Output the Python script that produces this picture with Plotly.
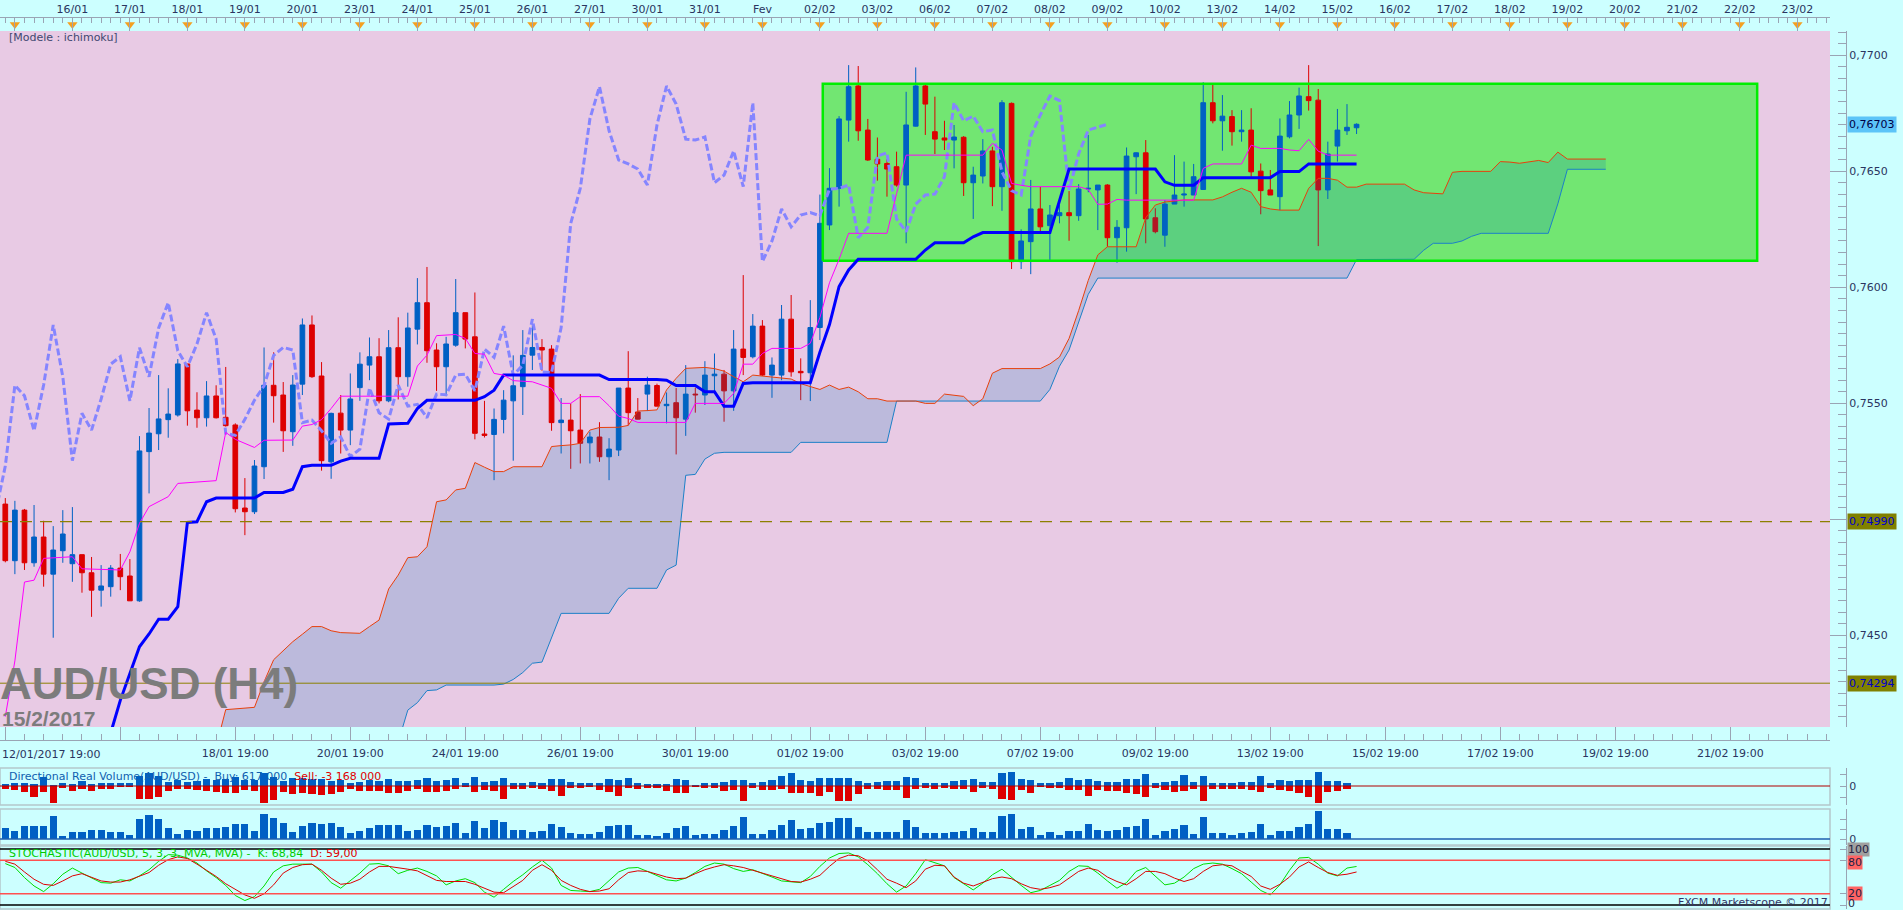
import plotly.graph_objects as go

# ---------------- DATA ----------------
# 4-hour bars, index 0 = 12/01/2017 19:00
opens = [0.75066,0.74822,0.75040,0.74813,0.74924,0.74764,0.74865,0.74809,0.74848,0.74770,
 0.74695,0.74710,0.74790,0.74756,0.74649,0.75292,0.75369,0.75430,0.75450,0.75670,
 0.75471,0.75438,0.75532,0.75440,0.75407,0.75049,0.75033,0.75227,0.75578,0.75536,
 0.75378,0.75583,0.75838,0.75618,0.75248,0.75458,0.75385,0.75568,0.75665,0.75701,
 0.75511,0.75740,0.75615,0.75820,0.75934,0.75730,0.75658,0.75751,0.75891,0.75787,
 0.75368,0.75366,0.75431,0.75511,0.75572,0.75708,0.75741,0.75734,0.75417,0.75428,
 0.75385,0.75330,0.75355,0.75270,0.75299,0.75566,0.75463,0.75540,0.75577,0.75490,
 0.75503,0.75432,0.75540,0.75536,0.75619,0.75626,0.75554,0.75734,0.75701,0.75833,
 0.75622,0.75622,0.75863,0.75638,0.75632,0.75827,0.76269,0.76427,0.76721,0.76868,
 0.76678,0.76552,0.76534,0.76520,0.76441,0.76695,0.76868,0.76671,0.76644,0.76635,
 0.76647,0.76451,0.76480,0.76588,0.76434,0.76793,0.76111,0.76197,0.76338,0.76266,
 0.76309,0.76322,0.76309,0.76424,0.76420,0.76441,0.76214,0.76257,0.76563,0.76580,
 0.76300,0.76225,0.76359,0.76398,0.76398,0.76422,0.76796,0.76718,0.76736,0.76671,
 0.76678,0.76501,0.76420,0.76391,0.76649,0.76743,0.76822,0.76807,0.76420,0.76609,
 0.76675,0.76688]
highs = [0.75092,0.75080,0.75045,0.75062,0.74994,0.74971,0.75040,0.75053,0.74848,0.74838,
 0.74803,0.74803,0.74851,0.74829,0.75359,0.75480,0.75622,0.75565,0.75691,0.75670,
 0.75548,0.75596,0.75578,0.75657,0.75414,0.75178,0.75256,0.75741,0.75720,0.75592,
 0.75622,0.75866,0.75879,0.75678,0.75460,0.75536,0.75629,0.75720,0.75784,0.75781,
 0.75816,0.75871,0.75891,0.76040,0.76088,0.75759,0.75787,0.76036,0.75891,0.75978,
 0.75511,0.75478,0.75557,0.75707,0.75816,0.75859,0.75777,0.75751,0.75523,0.75500,
 0.75540,0.75378,0.75419,0.75350,0.75566,0.75725,0.75523,0.75615,0.75585,0.75547,
 0.75566,0.75665,0.75568,0.75682,0.75715,0.75644,0.75816,0.76053,0.75885,0.75859,
 0.75698,0.75924,0.75967,0.75694,0.75945,0.76400,0.76514,0.76738,0.76958,0.76954,
 0.76726,0.76646,0.76552,0.76585,0.76843,0.76948,0.76876,0.76822,0.76718,0.76700,
 0.76652,0.76520,0.76639,0.76606,0.76807,0.76797,0.76250,0.76463,0.76434,0.76355,
 0.76355,0.76415,0.76445,0.76657,0.76441,0.76445,0.76290,0.76603,0.76582,0.76635,
 0.76341,0.76376,0.76570,0.76542,0.76532,0.76884,0.76879,0.76829,0.76764,0.76764,
 0.76772,0.76534,0.76506,0.76728,0.76803,0.76861,0.76958,0.76855,0.76628,0.76769,
 0.76790,0.76707]
lows = [0.74815,0.74764,0.74782,0.74796,0.74710,0.74490,0.74813,0.74731,0.74684,0.74580,
 0.74624,0.74667,0.74695,0.74649,0.74645,0.75112,0.75299,0.75352,0.75443,0.75404,
 0.75395,0.75400,0.75435,0.75400,0.75030,0.74932,0.75023,0.75174,0.75417,0.75291,
 0.75317,0.75536,0.75610,0.75210,0.75175,0.75284,0.75320,0.75511,0.75600,0.75500,
 0.75505,0.75517,0.75572,0.75754,0.75675,0.75554,0.75531,0.75744,0.75737,0.75345,
 0.75353,0.75169,0.75371,0.75253,0.75450,0.75644,0.75641,0.75382,0.75284,0.75218,
 0.75241,0.75241,0.75248,0.75169,0.75273,0.75405,0.75431,0.75467,0.75488,0.75414,
 0.75280,0.75360,0.75460,0.75493,0.75550,0.75421,0.75468,0.75622,0.75694,0.75618,
 0.75524,0.75600,0.75615,0.75514,0.75510,0.75773,0.76247,0.76348,0.76628,0.76632,
 0.76545,0.76460,0.76391,0.76434,0.76190,0.76693,0.76657,0.76575,0.76592,0.76513,
 0.76394,0.76295,0.76448,0.76350,0.76330,0.76079,0.76079,0.76057,0.76236,0.76115,
 0.76276,0.76201,0.76287,0.76410,0.76247,0.76175,0.76106,0.76154,0.76402,0.76190,
 0.76233,0.76175,0.76359,0.76348,0.76398,0.76420,0.76707,0.76589,0.76611,0.76628,
 0.76477,0.76315,0.76398,0.76333,0.76642,0.76683,0.76762,0.76178,0.76381,0.76542,
 0.76657,0.76661]
closes = [0.74822,0.75040,0.74813,0.74924,0.74764,0.74868,0.74937,0.74848,0.74770,0.74695,
 0.74713,0.74790,0.74753,0.74649,0.75295,0.75372,0.75433,0.75454,0.75670,0.75468,
 0.75438,0.75532,0.75438,0.75404,0.75046,0.75033,0.75230,0.75578,0.75533,0.75382,
 0.75579,0.75838,0.75615,0.75253,0.75457,0.75385,0.75519,0.75669,0.75701,0.75511,
 0.75740,0.75615,0.75825,0.75934,0.75727,0.75658,0.75756,0.75891,0.75777,0.75371,
 0.75362,0.75431,0.75514,0.75576,0.75707,0.75741,0.75730,0.75417,0.75428,0.75382,
 0.75328,0.75355,0.75270,0.75303,0.75566,0.75460,0.75432,0.75579,0.75488,0.75496,
 0.75438,0.75540,0.75537,0.75622,0.75626,0.75554,0.75734,0.75698,0.75833,0.75622,
 0.75665,0.75863,0.75636,0.75632,0.75827,0.76276,0.76427,0.76726,0.76865,0.76675,
 0.76549,0.76532,0.76510,0.76441,0.76700,0.76868,0.76790,0.76639,0.76635,0.76648,
 0.76451,0.76484,0.76588,0.76434,0.76796,0.76111,0.76200,0.76338,0.76261,0.76312,
 0.76322,0.76309,0.76424,0.76427,0.76441,0.76214,0.76259,0.76566,0.76580,0.76295,
 0.76240,0.76359,0.76398,0.76402,0.76477,0.76796,0.76718,0.76738,0.76671,0.76678,
 0.76498,0.76417,0.76398,0.76652,0.76743,0.76825,0.76805,0.76420,0.76575,0.76678,
 0.76690,0.76703]

# Ichimoku lines (bar index, price) at their corners
tenkan_x = [0,1,2,3,4,7,8,12,13,14,15,17,18,22,23,24,26,27,30,31,32,33,34,35,42,43,44,45,47,48,49,50,51,52,53,55,57,58,59,60,62,63,64,65,66,71,72,75,76,77,78,79,80,83,84,85,86,87,88,92,93,94,102,103,104,105,106,107,112,113,114,115,116,117,124,125,126,129,130,131,133,134,135,136,137,138,141]
tenkan_y = [0.7415,0.7439,0.7473,0.74738,0.74832,0.74839,0.74787,0.74782,0.7486,0.74983,0.75055,0.75098,0.75155,0.75167,0.75375,0.75345,0.7531,0.75341,0.75342,0.75402,0.75409,0.7543,0.75478,0.75531,0.75531,0.75661,0.75708,0.75792,0.75797,0.7578,0.75715,0.75712,0.75629,0.75622,0.75598,0.75593,0.75565,0.755,0.755,0.75529,0.75529,0.7549,0.75445,0.75435,0.75418,0.75418,0.755,0.755,0.75543,0.75669,0.75669,0.75715,0.75737,0.75737,0.75759,0.7587,0.7602,0.76121,0.76233,0.76233,0.76404,0.7657,0.7657,0.76621,0.76592,0.76448,0.7644,0.76434,0.76434,0.76422,0.76358,0.76359,0.76379,0.76376,0.76376,0.76513,0.76532,0.76532,0.76613,0.76599,0.76599,0.76592,0.76589,0.76638,0.76587,0.7657,0.7657]

kijun_x = [10,11,12,13,14,15,16,17,18,19,20,21,22,26,27,29,30,31,32,34,35,36,39,40,42,43,44,49,50,51,52,62,63,68,69,70,72,73,74,75,76,77,78,84,85,86,87,88,89,95,96,97,100,101,102,109,110,111,120,121,122,124,125,132,133,135,136,141]
kijun_y = [0.7400,0.7408,0.7422,0.7434,0.74451,0.74506,0.7457,0.7457,0.74624,0.74987,0.7499,0.75076,0.75092,0.75092,0.75116,0.75116,0.7513,0.75227,0.75233,0.75233,0.75251,0.75263,0.75263,0.75411,0.75414,0.75478,0.75513,0.75513,0.75529,0.75557,0.75622,0.75622,0.75603,0.75603,0.756,0.75577,0.75577,0.7555,0.7555,0.75488,0.75488,0.75586,0.75589,0.75589,0.7572,0.7584,0.76003,0.76075,0.76121,0.76121,0.76161,0.76192,0.76192,0.76218,0.76236,0.76236,0.76376,0.7651,0.7651,0.76455,0.7644,0.7644,0.76473,0.76473,0.76499,0.76499,0.76532,0.76532]

span_a_x = [22,23,26,27,28,29,30,31,32,33,34,35,37,38,39,40,41,42,43,44,45,46,47,48,49,50,51,52,53,56,57,58,59,60,61,62,64,65,66,67,68,69,70,71,73,74,75,76,77,78,81,82,83,85,86,87,88,89,90,91,92,95,96,97,98,100,101,102,103,104,108,109,110,111,112,113,114,115,118,119,120,121,122,123,126,127,128,129,130,131,132,133,135,136,137,138,139,140,141,142,146,147,148,150,151,152,155,156,157,158,160,161,162,163,167]
span_a_y = [0.7402,0.7418,0.7419,0.7430,0.74395,0.74435,0.74473,0.74505,0.74538,0.74538,0.7452,0.74512,0.74509,0.74538,0.74566,0.747,0.7476,0.74835,0.74839,0.74882,0.75076,0.75084,0.75127,0.75134,0.75245,0.75225,0.75206,0.75206,0.75227,0.75227,0.75314,0.75318,0.75321,0.75328,0.75385,0.75396,0.75397,0.75405,0.75467,0.75469,0.75472,0.75558,0.75608,0.75651,0.75655,0.7565,0.75639,0.75615,0.75593,0.75622,0.7561,0.75605,0.75585,0.7556,0.75579,0.7556,0.7557,0.7555,0.7552,0.7552,0.7551,0.7551,0.7550,0.7550,0.7554,0.7553,0.7549,0.7552,0.7563,0.7565,0.7565,0.7567,0.7570,0.7578,0.7590,0.7603,0.7614,0.76175,0.76175,0.763,0.76355,0.76368,0.76372,0.76377,0.76377,0.7639,0.7641,0.76427,0.7641,0.76348,0.76338,0.76333,0.76333,0.76427,0.7647,0.7647,0.76462,0.76432,0.76432,0.76445,0.76445,0.7642,0.76408,0.76403,0.76496,0.765,0.765,0.76542,0.7654,0.76535,0.76547,0.76538,0.76583,0.76553,0.76553]

span_b_x = [22,29,30,34,35,37,38,39,40,41,42,43,44,45,46,51,52,53,54,55,56,57,58,63,64,65,68,69,70,71,72,73,74,75,82,83,92,93,108,109,110,111,112,113,114,140,141,147,148,149,151,152,153,154,161,162,163,167]
span_b_y = [0.7360,0.7360,0.7368,0.7368,0.7376,0.7376,0.7388,0.7388,0.7398,0.7404,0.74178,0.7421,0.74262,0.74265,0.74286,0.74286,0.7429,0.7431,0.7434,0.7438,0.74385,0.7449,0.74595,0.74595,0.7466,0.74703,0.74703,0.74782,0.74803,0.7519,0.75194,0.7526,0.75285,0.75289,0.75289,0.75332,0.75332,0.7551,0.7551,0.7556,0.7566,0.7573,0.7585,0.7597,0.7604,0.7604,0.7612,0.76121,0.7616,0.7619,0.7619,0.762,0.7622,0.76233,0.76233,0.7636,0.76509,0.76509]

# Directional real volume (millions) and real volume
buy_vol = [1.7,2.7,2.7,2.0,8.7,1.0,2.7,2.0,5.0,2.0, 3.3,3.3,2.7,2.7,10.0,12.7,10.0,4.3,6.0,4.3,
 5.0,6.7,6.0,6.7,9.3,6.0,6.0,12.7,9.3,5.0, 8.3,8.3,6.7,6.7,5.0,6.0,2.7,4.3,6.0,5.0,
 6.7,5.0,5.0,6.0,8.3,5.0,6.0,8.3,2.7,9.3, 4.3,5.0,7.7,3.3,3.3,4.3,3.3,6.7,6.7,4.3,
 3.3,2.7,2.7,6.7,6.0,8.3,2.7,1.7,1.7,1.7, 6.7,6.0,1.0,3.3,3.3,4.0,6.0,6.0,3.3,4.3,
 6.0,10.0,12.7,6.0,5.0,7.7,7.7,7.7,7.7,5.0, 2.7,4.3,5.0,5.0,8.7,7.7,3.3,3.3,3.3,5.0,
 6.0,7.0,4.3,4.3,13.3,14.3,7.0,6.0,3.3,3.3, 4.3,7.7,6.0,6.7,5.0,4.3,4.3,6.7,6.7,12.0,
 3.3,4.3,5.0,11.0,4.0,10.3,3.3,3.3,3.3,4.3, 4.3,10.0,2.7,6.0,5.3,6.0,6.0,13.7,5.0,5.0,3.3]
sell_vol = [3.3,4.0,5.7,10.7,5.7,16.7,2.3,4.7,2.7,5.0, 3.3,3.3,0.7,1.3,13.3,13.3,11.3,5.0,3.3,3.0,
 4.3,5.0,5.7,6.7,6.7,4.0,5.0,16.7,14.0,5.7, 8.0,6.7,8.0,8.7,8.0,5.7,3.0,5.0,5.0,4.7,
 6.7,6.7,5.0,3.0,5.7,5.7,5.0,3.0,0.7,5.7, 4.0,5.0,13.3,3.0,3.0,2.3,3.3,5.0,9.7,2.3,
 2.3,1.3,4.0,5.7,10.0,1.7,3.0,2.3,2.3,4.7, 6.7,7.3,0.7,2.3,2.3,5.0,4.0,14.7,2.3,4.0,
 4.0,3.3,6.7,6.7,6.7,10.0,5.7,15.0,15.0,8.0, 3.3,3.3,4.0,4.0,11.7,3.0,2.3,3.3,2.3,3.3,
 3.0,5.7,2.3,3.0,13.0,14.0,4.0,6.7,1.3,2.3, 2.3,4.0,4.0,10.0,4.0,4.7,4.7,7.3,8.0,10.7,
 2.3,4.0,5.7,4.7,3.0,14.7,3.0,3.0,3.3,3.0, 4.0,5.7,2.3,4.0,4.7,7.3,10.7,16.7,5.7,5.0,3.3]
real_vol = [10.7,8.0,13.0,13.0,13.0,23.0,3.0,6.7,6.7,9.0, 9.0,6.7,6.7,4.0,20.0,24.0,20.0,10.7,5.0,9.0,
 8.3,10.7,10.7,12.3,14.7,14.7,8.0,24.7,21.3,16.3, 6.7,13.0,16.3,14.7,16.3,12.3,5.7,8.0,10.7,14.0,
 14.0,14.0,8.3,9.0,14.0,11.7,13.0,15.7,5.7,18.3, 10.7,19.0,17.3,9.0,9.0,6.7,8.0,14.7,11.7,5.7,
 4.7,4.7,6.7,13.0,14.0,13.7,4.0,4.0,3.0,5.7, 11.3,13.0,4.0,4.7,4.7,9.0,13.0,22.3,5.0,5.0,
 9.0,14.0,19.0,9.7,10.7,15.7,17.3,20.7,20.7,12.3, 7.3,7.3,7.3,7.3,19.0,12.3,5.7,5.7,5.7,7.3,
 8.0,10.7,6.7,6.7,23.3,25.0,10.0,11.7,4.0,7.3, 4.0,8.3,8.3,15.0,9.0,8.3,9.0,12.3,13.0,20.0,
 4.0,8.3,9.7,14.0,5.0,22.3,6.3,6.3,4.0,6.3, 7.3,15.0,4.0,8.3,8.3,11.7,15.0,28.0,9.7,9.7,6.3]

# Stochastic (5,3,3)
stoch_k = [74,67,49,34,24,38,55,66,57,48, 40,39,45,43,52,63,78,90,89,84, 75,61,49,35,17,8,15,34,59,70,
 73,73,73,59,40,30,43,57,73,74, 70,56,62,66,60,52,36,43,47,40, 23,14,28,42,54,68,80,66,35,26,
 25,24,28,43,59,66,67,60,52,45, 43,48,58,69,75,73,65,60,63,57, 50,43,41,40,51,69,84,92,93,86,
 72,56,38,23,34,56,81,76,70,49, 38,27,39,54,64,49,35,22,26,35, 44,60,70,69,57,43,30,40,60,67,
 52,36,39,50,65,73,75,73,65,56, 41,26,18,36,62,84,85,73,57,52, 66,68.84]
stoch_d = [78,73,59,46,37,35,43,52,56,50, 43,41,41,45,51,58,71,81,86,83, 73,62,51,38,28,18,12,20,36,57,
 67,72,73,62,48,37,39,46,59,69, 69,67,64,61,52,44,42,42,42,37, 30,23,22,33,44,62,72,62,44,35,
 28,24,25,29,45,58,61,60,55,50, 47,48,56,63,68,72,70,67,62,57, 53,47,42,41,46,53,69,83,89,88,
 79,63,46,39,31,43,64,71,70,50, 39,34,41,47,50,47,38,31,28,31, 36,48,60,66,62,50,42,36,47,60,
 60,56,48,42,47,60,70,72,70,60, 51,34,28,37,50,68,77,67,58,53, 55,59.0]

# Box drawn on the chart (bar index / price)
box_start, box_end = 85.3, 182.8
box_low, box_high = 0.76115, 0.76878

# Horizontal levels
level_dashed = 0.74990
level_solid = 0.74294
stoch_levels_black = [0, 100]
stoch_levels_red = [20, 80]

# Axis labels
bottom_tick_idx = [0,12,24,36,48,60,72,84,96,108,120,132,144,156,168,180]
bottom_tick_text = ['','','18/01 19:00','20/01 19:00','24/01 19:00','26/01 19:00','30/01 19:00',
                    '01/02 19:00','03/02 19:00','07/02 19:00','09/02 19:00','13/02 19:00',
                    '15/02 19:00','17/02 19:00','19/02 19:00','21/02 19:00']
first_bar_label = '12/01/2017 19:00'
day_tick_idx = [1,7,13,19,25,31,37,43,49,55,61,67,73,79,85,91,97,103,109,115,121,127,133,139,
                145,151,157,163,169,175,181,187]
day_tick_text = ['','16/01','17/01','18/01','19/01','20/01','23/01','24/01','25/01','26/01','27/01',
                 '30/01','31/01','Fev','02/02','03/02','06/02','07/02','08/02','09/02','10/02',
                 '13/02','14/02','15/02','16/02','17/02','18/02','19/02','20/02','21/02','22/02','23/02']
price_ticks = [0.745, 0.750, 0.755, 0.760, 0.765, 0.770]
price_tick_text = ['0,7450', '', '0,7550', '0,7600', '0,7650', '0,7700']

# ---------------- STYLE / LAYOUT ----------------
W, H = 1903, 910
def fx(px): return px / W
def fy(py): return 1 - py / H

BLUE = '#0060C4'
RED = '#DD0000'
CYAN = '#CCFFFF'
PINK = '#E8CAE4'
TXT = '#2A3560'
FONT = 'DejaVu Sans'

idx = list(range(len(closes)))
vidx = list(range(len(real_vol)))

X_RANGE = [-0.553, 190.40]
PLOT_R = fx(1830)
AXIS_X = fx(1846)

fig = go.Figure()

# Candles (drawn first; the translucent cloud and the lines lie over them)
fig.add_trace(go.Candlestick(x=idx, open=opens, high=highs, low=lows, close=closes,
                             increasing=dict(line=dict(color=BLUE, width=1), fillcolor=BLUE),
                             decreasing=dict(line=dict(color=RED, width=1), fillcolor=RED),
                             whiskerwidth=0, xaxis='x', yaxis='y'))
# Kumo (translucent)
fig.add_trace(go.Scatter(x=span_b_x, y=span_b_y, mode='lines',
                         line=dict(color='#1C80C8', width=1), xaxis='x', yaxis='y'))
fig.add_trace(go.Scatter(x=span_a_x, y=span_a_y, mode='lines', fill='tonexty',
                         fillcolor='rgba(0,117,185,0.19)', line=dict(color='#E8400C', width=1),
                         xaxis='x', yaxis='y'))
# Green box outline
fig.add_trace(go.Scatter(x=[box_start, box_end, box_end, box_start, box_start],
                         y=[box_low, box_low, box_high, box_high, box_low],
                         mode='lines', line=dict(color='#00EE00', width=2.5),
                         xaxis='x', yaxis='y'))
# Chikou span (closes displaced 26 bars back)
chik_x = [i - 26 for i in range(25, len(closes))]
chik_y = closes[25:]
fig.add_trace(go.Scatter(x=chik_x, y=chik_y, mode='lines',
                         line=dict(color='#8585FF', width=3, dash='7px,3px'),
                         xaxis='x', yaxis='y'))
# Kijun / Tenkan
fig.add_trace(go.Scatter(x=kijun_x, y=kijun_y, mode='lines',
                         line=dict(color='#0000FF', width=3), xaxis='x', yaxis='y'))
fig.add_trace(go.Scatter(x=tenkan_x, y=tenkan_y, mode='lines',
                         line=dict(color='#FF00FF', width=1), xaxis='x', yaxis='y'))

# Directional volume
fig.add_trace(go.Bar(x=vidx, y=buy_vol, marker=dict(color=BLUE, line=dict(width=0)),
                     width=0.75, xaxis='x', yaxis='y2'))
fig.add_trace(go.Bar(x=vidx, y=[-s for s in sell_vol], marker=dict(color=RED, line=dict(width=0)),
                     width=0.75, xaxis='x', yaxis='y2'))
# Real volume
fig.add_trace(go.Bar(x=vidx, y=real_vol, marker=dict(color=BLUE, line=dict(width=0)),
                     width=0.75, xaxis='x', yaxis='y3'))
# Stochastic
fig.add_trace(go.Scatter(x=idx, y=stoch_k, mode='lines', line=dict(color='#00DD00', width=1),
                         xaxis='x', yaxis='y4'))
fig.add_trace(go.Scatter(x=idx, y=stoch_d, mode='lines', line=dict(color='#DD0000', width=1),
                         xaxis='x', yaxis='y4'))
# Day markers (orange triangles) on the top time band
fig.add_trace(go.Scatter(x=day_tick_idx, y=[0.5] * len(day_tick_idx), mode='markers',
                         marker=dict(symbol='triangle-down', size=9, color='#F5A020',
                                     line=dict(width=0)),
                         xaxis='x2', yaxis='y5'))

shapes = []
# pink main area
shapes.append(dict(type='rect', xref='x domain', yref='y domain', x0=0, x1=1, y0=0, y1=1,
                   fillcolor=PINK, line=dict(width=0), layer='below'))
# green box fill (under candles and cloud)
shapes.append(dict(type='rect', xref='x', yref='y', x0=box_start, x1=box_end,
                   y0=box_low, y1=box_high, fillcolor='#72E672', line=dict(width=0),
                   layer='below'))
# price levels
shapes.append(dict(type='line', xref='x domain', yref='y', x0=0, x1=1,
                   y0=level_dashed, y1=level_dashed,
                   line=dict(color='#8C8000', width=1.3, dash='12px,8px')))
shapes.append(dict(type='line', xref='x domain', yref='y', x0=0, x1=1,
                   y0=level_solid, y1=level_solid, line=dict(color='#8C8000', width=1)))
# panel frames
for ya in ['y2', 'y3', 'y4']:
    shapes.append(dict(type='rect', xref='x domain', yref=ya + ' domain', x0=0, x1=1, y0=0, y1=1,
                       line=dict(color='#B4C8CC', width=1.5), layer='below'))
# zero lines
shapes.append(dict(type='line', xref='x domain', yref='y2', x0=0, x1=1, y0=0, y1=0,
                   line=dict(color='#B00000', width=1.2)))
shapes.append(dict(type='line', xref='x domain', yref='y3', x0=0, x1=1, y0=0, y1=0,
                   line=dict(color='#1F5FAF', width=1.5)))
for lv in stoch_levels_black:
    shapes.append(dict(type='line', xref='x domain', yref='y4', x0=0, x1=1, y0=lv, y1=lv,
                       line=dict(color='#000000', width=1.5)))
for lv in stoch_levels_red:
    shapes.append(dict(type='line', xref='x domain', yref='y4', x0=0, x1=1, y0=lv, y1=lv,
                       line=dict(color='#FF5050', width=1.5)))

def fmt(v, n):
    return f"{v:.{n}f}".replace('.', ',')

ann = []
ann.append(dict(xref='x', yref='paper', x=bottom_tick_idx[0], y=fy(754), xanchor='left',
                yanchor='middle', xshift=-5, text=first_bar_label, showarrow=False,
                font=dict(family=FONT, size=11, color=TXT)))
ann.append(dict(xref='paper', yref='paper', x=fx(7), y=fy(38), xanchor='left', yanchor='middle',
                text='[Modele : ichimoku]', showarrow=False,
                font=dict(family=FONT, size=11, color='#404870')))
ann.append(dict(xref='paper', yref='paper', x=fx(-2), y=fy(683), xanchor='left', yanchor='middle',
                text='<b>AUD/USD (H4)</b>', showarrow=False,
                font=dict(family='Liberation Sans', size=44, color='#7C7C7C')))
ann.append(dict(xref='paper', yref='paper', x=fx(0), y=fy(718), xanchor='left', yanchor='middle',
                text='<b>15/2/2017</b>', showarrow=False,
                font=dict(family='Liberation Sans', size=21, color='#7C7C7C')))
# price labels
ann.append(dict(xref='paper', yref='y', x=fx(1847), y=closes[-1], xanchor='left', yanchor='middle',
                text=fmt(closes[-1], 5), showarrow=False, bgcolor='#5CC4F8', borderpad=1,
                font=dict(family=FONT, size=11, color='#000044')))
for lv in [level_dashed, level_solid]:
    ann.append(dict(xref='paper', yref='y', x=fx(1847), y=lv, xanchor='left', yanchor='middle',
                    text=fmt(lv, 5), showarrow=False, bgcolor='#808000', borderpad=1,
                    font=dict(family=FONT, size=11, color='#0000CC')))
# panel titles
ann.append(dict(xref='paper', yref='paper', x=fx(7), y=fy(776), xanchor='left', yanchor='middle',
                text="Directional Real Volume(AUD/USD) -  Buy: 617 000  "
                     "<span style='color:#E00000'>Sell: -3 168 000</span>",
                showarrow=False, font=dict(family=FONT, size=11, color='#1060B0')))
ann.append(dict(xref='paper', yref='paper', x=fx(7), y=fy(853), xanchor='left', yanchor='middle',
                text="STOCHASTIC(AUD/USD, 5, 3, 3, MVA, MVA) -  K: " + fmt(stoch_k[-1], 2) +
                     "  <span style='color:#E00000'>D: " + fmt(stoch_d[-1], 2) + "</span>",
                showarrow=False, font=dict(family=FONT, size=11, color='#00CC00')))
ann.append(dict(xref='paper', yref='paper', x=PLOT_R, y=fy(902), xanchor='right', yanchor='middle',
                text='FXCM Marketscope © 2017', showarrow=False,
                font=dict(family=FONT, size=11, color='#333366')))
# stochastic level labels
for lv, bg, ysh in [(100, '#A0A0A0', 0), (80, '#FF6464', -2), (20, '#FF6464', 0),
                    (0, 'rgba(0,0,0,0)', 2)]:
    ann.append(dict(xref='paper', yref='y4', x=fx(1847), y=lv, xanchor='left', yanchor='middle',
                    yshift=ysh, text=str(lv), showarrow=False, bgcolor=bg, borderpad=0,
                    font=dict(family=FONT, size=11, color='#222244')))

tickfont = dict(family=FONT, size=11, color=TXT)
AX_LINE = '#9AA4B4'

layout = dict(
    width=W, height=H, autosize=False,
    margin=dict(l=0, r=0, t=0, b=0, pad=0),
    paper_bgcolor=CYAN, plot_bgcolor=CYAN,
    showlegend=False, hovermode=False, dragmode=False,
    barmode='relative', bargap=0,
    xaxis=dict(domain=[0, PLOT_R], range=X_RANGE, anchor='free', position=fy(740),
               side='bottom', showgrid=False, zeroline=False, showline=True, linecolor=AX_LINE,
               ticks='inside', ticklen=13, tickcolor=AX_LINE, tickmode='array',
               tickvals=bottom_tick_idx, ticktext=bottom_tick_text, tickfont=tickfont,
               ticklabelstandoff=3,
               minor=dict(tick0=0, dtick=2, ticks='inside', ticklen=6, tickcolor=AX_LINE),
               rangeslider=dict(visible=False), fixedrange=True),
    xaxis2=dict(domain=[0, PLOT_R], matches='x', anchor='y5', side='top', showgrid=False,
                zeroline=False, showline=True, linecolor=AX_LINE, ticks='inside', ticklen=13,
                tickcolor=AX_LINE, tickmode='array', tickvals=day_tick_idx,
                ticktext=day_tick_text, tickfont=tickfont,
                minor=dict(tick0=0, dtick=1, ticks='inside', ticklen=5, tickcolor=AX_LINE),
                fixedrange=True),
    yaxis=dict(domain=[fy(727), fy(31)], range=[0.741052, 0.77105], anchor='free',
               position=AXIS_X, side='right', showgrid=False, zeroline=False, showline=True,
               linecolor=AX_LINE, ticks='inside', ticklen=16, tickcolor=AX_LINE,
               tickmode='array', tickvals=price_ticks, ticktext=price_tick_text,
               tickfont=tickfont,
               minor=dict(tick0=0.74, dtick=0.0005, ticks='inside', ticklen=8, tickcolor=AX_LINE),
               fixedrange=True),
    yaxis2=dict(domain=[fy(805), fy(768)], range=[-19, 18], anchor='free', position=AXIS_X,
                side='right', showgrid=False, zeroline=False, showline=True, linecolor=AX_LINE,
                ticks='inside', ticklen=6, tickcolor=AX_LINE, tickmode='array',
                tickvals=[-11.5, 0, 11.5], ticktext=['', '0', ''], tickfont=tickfont,
                fixedrange=True),
    yaxis3=dict(domain=[fy(845), fy(809)], range=[-6, 30], anchor='free', position=AXIS_X,
                side='right', showgrid=False, zeroline=False, showline=True, linecolor=AX_LINE,
                ticks='inside', ticklen=6, tickcolor=AX_LINE, tickmode='array',
                tickvals=[0, 10, 20], ticktext=['0', '', ''], tickfont=tickfont,
                fixedrange=True),
    yaxis4=dict(domain=[fy(909), fy(846)], range=[-7.1, 105.4], anchor='free', position=AXIS_X,
                side='right', showgrid=False, zeroline=False, showline=True, linecolor=AX_LINE,
                ticks='inside', ticklen=6, tickcolor=AX_LINE, tickmode='array',
                tickvals=[0, 20, 80, 100], showticklabels=False, fixedrange=True),
    yaxis5=dict(domain=[fy(31), fy(18)], range=[0, 1], anchor='x2', visible=False,
                fixedrange=True),
    shapes=shapes, annotations=ann,
)
fig.update_layout(**layout)

fig.write_html("out.html", include_plotlyjs=True,
               config={'displayModeBar': False, 'staticPlot': True},
               post_script="document.body.style.margin='0';document.body.style.overflow='hidden';")
